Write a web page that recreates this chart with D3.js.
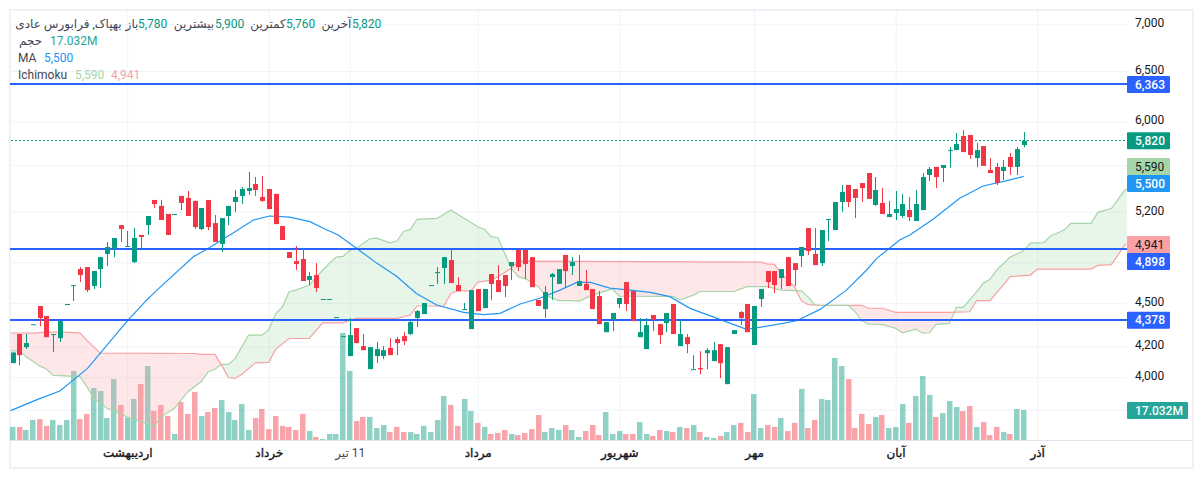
<!DOCTYPE html>
<html>
<head>
<meta charset="utf-8">
<script src="https://cdn.jsdelivr.net/npm/d3@7/dist/d3.min.js"></script>
<style>
  html, body { margin: 0; padding: 0; background: #fff; }
  svg { display: block; font-family: Roboto, "DejaVu Sans", sans-serif; }
  .grid line { stroke: #f0f3fa; }
  .grid path, .axis path, .axis line { display: none; }
  .axis text { font-size: 12px; fill: #131722; font-family: Roboto, "DejaVu Sans", sans-serif; }
  .rtl { direction: rtl; unicode-bidi: plaintext; }
</style>
</head>
<body>
<svg id="chart" width="1203" height="478"></svg>
<script>
  // bars are addressed by their index, 0 = first visible bar
  const opens = [
    4090,4283,4195,4350,4478,4407,4283,4255,4492,4629,
    4748,4763,4622,4748,4863,4910,5091,4925,4801,5012,
    5091,5298,5248,5181,5181,5332,5315,5290,5059,5298,
    5107,4941,5165,5281,5332,5374,5434,5323,5391,5349,
    5083,4878,4808,4824,4666,4703,4528,4528,4400,4269,
    4136,4324,4202,4051,4136,4136,4189,4249,4269,4283,
    4393,4421,4629,4718,4756,4816,4629,4456,4317,4600,
    4463,4711,4666,4703,4771,4894,4894,4839,4521,4456,
    4688,4637,4855,4771,4622,4637,4600,4549,4296,4379,
    4492,4651,4585,4262,4182,4414,4351,4358,4492,4202,
    4262,4051,4058,4155,4103,4215,3956,4283,4435,4492,
    4209,4528,4733,4733,4681,4839,4793,4847,5067,4863,
    4793,5140,5051,5281,5425,5391,5442,5529,5256,5273,
    5156,5189,5165,5214,5124,5214,5512,5583,5574,5734,
    5734,5864,5873,5662,5771,5556,5583,5547,5671,5583,5780
  ];
  const highs = [
    4160,4283,4283,4350,4478,4407,4283,4372,4492,4629,
    4763,4763,4733,4839,4956,4988,5091,5043,5067,5012,
    5165,5298,5298,5181,5181,5332,5374,5290,5231,5298,
    5173,5148,5248,5382,5408,5538,5494,5503,5391,5349,
    5083,4878,4925,4910,4726,4793,4528,4528,4400,4269,
    4393,4324,4283,4195,4229,4202,4255,4262,4296,4372,
    4449,4499,4629,4763,4839,4902,4688,4499,4592,4600,
    4600,4711,4778,4703,4801,4894,4894,4839,4521,4622,
    4718,4748,4855,4839,4855,4741,4600,4585,4365,4428,
    4535,4651,4585,4393,4393,4414,4351,4428,4492,4379,
    4283,4142,4168,4189,4229,4215,4195,4310,4442,4492,
    4478,4600,4733,4733,4748,4839,4793,4917,5067,5067,
    5051,5140,5281,5425,5425,5391,5442,5529,5494,5399,
    5290,5374,5349,5323,5382,5529,5583,5583,5600,5760,
    5892,5920,5873,5799,5771,5662,5618,5645,5707,5762,5900
  ];
  const lows = [
    4090,4077,4182,4350,4337,4262,4162,4229,4492,4514,
    4651,4578,4600,4607,4771,4839,4956,4925,4793,4902,
    5012,5231,5132,5012,5181,5214,5165,5059,5051,5051,
    4956,4878,5091,5198,5264,5340,5332,5281,5222,5099,
    4972,4832,4741,4659,4629,4578,4528,4528,4400,4269,
    4136,4222,4175,4051,4090,4116,4142,4142,4209,4276,
    4331,4421,4629,4637,4637,4644,4585,4456,4317,4442,
    4463,4521,4578,4542,4666,4733,4673,4614,4478,4393,
    4521,4637,4607,4703,4622,4592,4456,4351,4296,4303,
    4463,4442,4372,4262,4182,4303,4215,4296,4283,4202,
    4155,4051,4019,4051,4103,3994,3956,4283,4344,4296,
    4209,4471,4607,4571,4600,4622,4622,4763,4855,4778,
    4771,4964,5051,5198,5239,5148,5281,5307,5248,5181,
    5156,5132,5148,5124,5124,5214,5459,5399,5451,5574,
    5734,5716,5654,5583,5592,5529,5425,5468,5512,5512,5760
  ];
  const closes = [
    4160,4142,4222,4350,4393,4262,4283,4372,4492,4629,
    4703,4592,4733,4839,4917,4988,5059,4925,4988,4996,
    5165,5264,5132,5012,5181,5273,5165,5075,5231,5075,
    4956,5148,5248,5323,5391,5399,5382,5290,5222,5099,
    4972,4832,4786,4659,4696,4607,4528,4528,4400,4269,
    4276,4222,4175,4195,4182,4175,4142,4222,4235,4365,
    4442,4499,4629,4725,4839,4644,4585,4456,4592,4442,
    4600,4637,4578,4622,4801,4763,4786,4614,4478,4578,
    4711,4748,4733,4801,4659,4592,4456,4351,4365,4428,
    4535,4492,4372,4296,4344,4379,4276,4428,4283,4283,
    4215,4051,4050,4175,4175,4090,4195,4310,4393,4296,
    4478,4600,4651,4629,4748,4622,4741,4917,4886,4778,
    5051,5140,5281,5365,5281,5315,5399,5307,5382,5181,
    5181,5222,5264,5156,5264,5494,5565,5494,5600,5734,
    5790,5716,5690,5734,5592,5529,5442,5583,5583,5743,5820
  ];
  // volume in millions
  const volumes = [
    7.4,7.4,5.7,11.4,11.9,8.0,11.4,8.5,11.4,39.2,
    11.9,14.8,29.5,27.8,12.5,34.6,19.9,12.5,23.3,31.8,
    42.0,16.5,19.9,13.6,3.4,21.6,14.8,27.3,13.6,15.9,
    18.2,22.7,15.9,11.4,20.4,5.7,12.5,17.6,6.2,13.6,
    8.0,7.4,5.7,14.8,5.1,1.7,0.6,3.4,3.4,60.8,
    39.2,10.8,13.1,13.1,6.8,8.5,4.5,7.4,4.5,4.5,
    3.4,8.0,4.5,11.4,25.0,19.9,8.0,23.3,16.5,9.7,
    7.4,3.4,4.0,5.7,3.4,2.8,4.0,6.2,14.2,4.5,
    6.8,5.7,8.5,5.7,1.7,5.1,8.5,2.8,15.9,3.4,
    5.1,3.4,3.4,10.2,3.4,2.3,5.7,5.1,4.5,7.4,
    6.8,8.5,4.5,1.7,1.1,2.3,4.5,8.5,9.7,4.5,
    26.1,6.8,8.5,7.4,12.5,5.1,9.7,29.0,6.8,11.4,
    23.3,22.7,46.6,42.0,34.6,6.8,14.8,9.1,13.1,14.2,
    6.8,7.4,20.4,9.7,25.0,36.3,25.6,13.1,15.3,22.1,
    18.7,16.5,19.3,7.4,10.2,2.8,7.4,4.5,3.4,17.6,17.032
  ];

  const maIndex = [-0.3,3.8,7,11.1,17.1,19.9,21.4,26.8,28.8,32.7,35.7,38.1,41.1,44.1,46,48.3,51,54,57,59.9,62.9,66.9,69.8,72.3,75.3,78.2,81.2,83.7,85.7,88.6,91.6,94.6,97.5,100.5,104.9,108.9,112.8,116.3,119.8,123.7,126.7,128.2,131.6,133.1,136.6,140.5,144,147.5,150];
  const maValues = [3793,3863,3913,4056,4379,4521,4592,4842,4899,5027,5132,5165,5155,5119,5067,5012,4908,4793,4692,4568,4485,4433,4417,4426,4492,4533,4592,4649,4649,4607,4592,4576,4545,4461,4384,4315,4344,4374,4454,4592,4741,4829,4972,5012,5140,5312,5417,5463,5500];

  const spanAIndex = [-0.3,1,2,4,5,6,10,11,12,14,16,17,21,22,24,26,28,29,30,31,32,33,35,37,38,39,40,41,42,44,46,47,48,49,50,51,53,54,56,57,58,59,60,63,65,69,70,71,72,73,74,75,76,78,79,81,83,84,86,89,90,98,99,101,102,107,109,112,114,117,118,119,124,125,126,127,129,131,132,134,135,136,137,139,140,141,143,144,145,146,148,150,151,153,154,156,157,160,161,163,165,165.3];
  const spanAValues = [4170,4170,4131,4071,4052,4011,4003,3940,3868,3807,3777,3753,3702,3756,3807,3909,3972,4035,4050,4082,4082,4121,4276,4276,4315,4423,4470,4580,4592,4629,4741,4793,4839,4844,4889,4908,4982,4986,4949,4964,5040,5056,5138,5146,5214,5078,5056,4998,4990,4868,4754,4691,4679,4617,4556,4516,4516,4511,4556,4600,4549,4547,4521,4556,4582,4582,4617,4617,4592,4587,4543,4485,4483,4437,4374,4351,4349,4322,4292,4317,4289,4292,4349,4356,4468,4468,4580,4642,4672,4741,4839,4889,4947,4952,5004,5051,5105,5105,5195,5226,5382,5388];

  const spanBIndex = [-0.3,3,5,8,10,11,13,27,28,30,31,32,33,34,36,38,39,41,44,46,49,50,51,57,59,60,64,65,66,68,69,71,72,74,75,111,112,113,114,116,117,118,120,126,127,129,131,139,142,143,145,148,151,152,160,161,163,165,165.3];
  const spanBValues = [4290,4289,4296,4296,4289,4242,4155,4153,4147,4147,4077,3998,3992,4019,4092,4095,4180,4253,4253,4360,4360,4379,4391,4391,4414,4478,4478,4568,4587,4587,4651,4666,4691,4754,4808,4801,4786,4786,4716,4617,4516,4488,4483,4483,4462,4462,4433,4433,4437,4516,4516,4691,4703,4748,4748,4776,4781,4933,4941];

  const priceTicks = [7000,6500,6000,5600,5200,4800,4500,4200,4000,3800];
  const hiddenPriceTicks = [5600,4800,3800]; // covered by the value tags on the real chart
  const timeTickIndex = [17,38,50,69,90,110,131,152];
  const timeTickLabels = ['اردیبهشت','خرداد','11 تیر','مرداد','شهریور','مهر','آبان','آذر'];
  const levelLines = [6363,4898,4378];
  const lastPrice = 5820;

  const UP = '#089981', DOWN = '#f23645', LEVEL = '#2962ff', MA_COLOR = '#2196f3';
  const SPAN_A = '#a5d6a7', SPAN_B = '#faa1a4', VOLUME_TAG = '#26a69a';

  const plotLeft = 10, plotRight = 1127, plotTop = 11, plotBottom = 440, outerRight = 1192, outerBottom = 467;

  const svg = d3.select('#chart');

  const x = d3.scaleLinear().domain([0, 150]).range([12.7, 1023.7]);
  const y = d3.scaleLog().domain([7000, 3800]).range([24.3, 409.5]);
  const yVol = d3.scaleLinear().domain([0, 17.032]).range([plotBottom, 410]);

  svg.append('defs').append('clipPath').attr('id', 'plot')
    .append('rect').attr('x', plotLeft).attr('y', plotTop).attr('width', plotRight - plotLeft).attr('height', plotBottom - plotTop);

  // frame
  svg.append('rect').attr('x', 10).attr('y', 10).attr('width', outerRight - 9).attr('height', outerBottom - 9)
    .attr('fill', '#fff').attr('stroke', '#f0f1f6').attr('stroke-width', 2);

  // grid
  svg.append('g').attr('class', 'grid').attr('transform', `translate(${plotLeft + 1},0)`)
    .call(d3.axisRight(y).tickValues(priceTicks).tickSize(plotRight - plotLeft - 1).tickFormat(''));
  svg.append('g').attr('class', 'grid').attr('transform', `translate(0,${plotTop})`)
    .call(d3.axisBottom(x).tickValues(timeTickIndex).tickSize(plotBottom - plotTop).tickFormat(''));

  const plot = svg.append('g').attr('clip-path', 'url(#plot)');

  // volume
  const isUp = i => closes[i] >= opens[i];
  plot.append('g').selectAll('rect').data(volumes).join('rect')
    .attr('x', (d, i) => Math.round(x(i) - 2.75))
    .attr('width', 5.5)
    .attr('y', d => yVol(d))
    .attr('height', d => plotBottom - yVol(d))
    .attr('fill', (d, i) => isUp(i) ? UP : DOWN)
    .attr('fill-opacity', 0.45);

  // ichimoku cloud: each colour is the part of one span's underside above the other span
  const spanA = spanAIndex.map((d, i) => [d, spanAValues[i]]);
  const spanB = spanBIndex.map((d, i) => [d, spanBValues[i]]);
  const lineGen = d3.line().x(d => x(d[0])).y(d => y(d[1]));
  const areaBelow = d3.area().x(d => x(d[0])).y0(plotBottom + 20).y1(d => y(d[1]));
  const areaAbove = d3.area().x(d => x(d[0])).y0(plotTop - 20).y1(d => y(d[1]));

  const defs = svg.select('defs');
  defs.append('clipPath').attr('id', 'aboveA').append('path').attr('d', areaAbove(spanA));
  defs.append('clipPath').attr('id', 'aboveB').append('path').attr('d', areaAbove(spanB));

  plot.append('g').attr('clip-path', 'url(#aboveB)').append('path')
    .attr('d', areaBelow(spanA)).attr('fill', SPAN_A).attr('fill-opacity', 0.25);
  plot.append('g').attr('clip-path', 'url(#aboveA)').append('path')
    .attr('d', areaBelow(spanB)).attr('fill', SPAN_B).attr('fill-opacity', 0.25);
  plot.append('path').attr('d', lineGen(spanB)).attr('fill', 'none').attr('stroke', SPAN_B).attr('stroke-width', 1.2);
  plot.append('path').attr('d', lineGen(spanA)).attr('fill', 'none').attr('stroke', SPAN_A).attr('stroke-width', 1.2);

  // moving average, levels and last price all sit behind the candles
  plot.append('path')
    .attr('d', d3.line().x((d, i) => x(maIndex[i])).y(d => y(d))(maValues))
    .attr('fill', 'none').attr('stroke', MA_COLOR).attr('stroke-width', 1.2);

  plot.append('g').selectAll('line').data(levelLines).join('line')
    .attr('x1', plotLeft).attr('x2', plotRight)
    .attr('y1', d => Math.round(y(d))).attr('y2', d => Math.round(y(d)))
    .attr('stroke', LEVEL).attr('stroke-width', 2);
  const lastY = Math.floor(y(lastPrice)) + 0.5;
  plot.append('line').attr('x1', plotLeft + 1).attr('x2', plotRight).attr('y1', lastY).attr('y2', lastY)
    .attr('stroke', UP).attr('stroke-width', 1).attr('stroke-dasharray', '2 2');

  // candles
  const candleColor = i => isUp(i) ? UP : DOWN;
  const candles = plot.append('g');
  candles.selectAll('line').data(opens).join('line')
    .attr('x1', (d, i) => Math.round(x(i)) + 0.5).attr('x2', (d, i) => Math.round(x(i)) + 0.5)
    .attr('y1', (d, i) => y(highs[i])).attr('y2', (d, i) => y(lows[i]))
    .attr('stroke', (d, i) => candleColor(i)).attr('stroke-width', 1);
  candles.selectAll('rect').data(opens).join('rect')
    .attr('x', (d, i) => Math.round(x(i)) - 2)
    .attr('width', 5)
    .attr('y', (d, i) => y(Math.max(opens[i], closes[i])))
    .attr('height', (d, i) => Math.max(1, Math.abs(y(opens[i]) - y(closes[i]))))
    .attr('fill', (d, i) => candleColor(i));

  // axis lines
  svg.append('line').attr('x1', plotLeft).attr('x2', outerRight).attr('y1', plotBottom + 0.5).attr('y2', plotBottom + 0.5)
    .attr('stroke', '#e0e3eb');

  // price axis
  const fmt = d3.format(',');
  const priceAxis = svg.append('g').attr('class', 'axis').attr('transform', `translate(${plotRight},-1.5)`)
    .call(d3.axisRight(y).tickValues(priceTicks.filter(d => !hiddenPriceTicks.includes(d)))
      .tickFormat(fmt).tickSize(0).tickPadding(8));

  // time axis
  const timeAxis = svg.append('g').attr('class', 'axis').attr('transform', `translate(0,${plotBottom})`)
    .call(d3.axisBottom(x).tickValues(timeTickIndex)
      .tickFormat((d, i) => timeTickLabels[i]).tickSize(0).tickPadding(8));
  timeAxis.selectAll('text')
    .attr('class', 'rtl')
    .style('font-weight', 400)
    .style('stroke', d => d === 50 ? 'none' : '#131722')
    .style('stroke-width', 0.35)
    .style('fill', d => d === 50 ? '#434651' : '#131722');

  // value tags on the price axis
  const tagRows = [
    { y: 84.5, w: 43, bg: LEVEL, fg: '#fff', t: '6,363' },
    { y: 140.7, w: 43, bg: UP, fg: '#fff', t: '5,820' },
    { y: 166.5, w: 43, bg: SPAN_A, fg: '#131722', t: '5,590' },
    { y: 183.5, w: 43, bg: MA_COLOR, fg: '#fff', t: '5,500' },
    { y: 244.5, w: 43, bg: SPAN_B, fg: '#131722', t: '4,941' },
    { y: 261.5, w: 43, bg: LEVEL, fg: '#fff', t: '4,898' },
    { y: 320.2, w: 43, bg: LEVEL, fg: '#fff', t: '4,378' },
    { y: 410.5, w: 61, bg: VOLUME_TAG, fg: '#fff', t: '17.032M' }
  ];
  const tags = svg.append('g').selectAll('g').data(tagRows).join('g')
    .attr('transform', d => `translate(${plotRight},${d.y})`);
  tags.append('rect').attr('y', -8.5).attr('height', 17).attr('width', d => d.w).attr('rx', 1).attr('fill', d => d.bg);
  tags.append('text').attr('x', 8).attr('dy', '0.35em').attr('font-size', 12)
    .attr('font-weight', d => d.fg === '#fff' ? 500 : 400)
    .attr('fill', d => d.fg).text(d => d.t);

  // legend
  const TEXT = '#434651';
  const legendRows = [
    { x: 352, y: 24, t: '5,820', c: UP },
    { x: 322, y: 24, t: 'آخرین', c: TEXT, w: 29 },
    { x: 286, y: 24, t: '5,760', c: UP },
    { x: 251, y: 24, t: 'کمترین', c: TEXT, w: 34 },
    { x: 215, y: 24, t: '5,900', c: UP },
    { x: 174, y: 24, t: 'بیشترین', c: TEXT, w: 40 },
    { x: 138, y: 24, t: '5,780', c: UP },
    { x: 127, y: 24, t: 'باز', c: TEXT, w: 10 },
    { x: 18, y: 24, t: 'بهپاک, فرابورس عادی', c: TEXT, w: 101 },
    { x: 18, y: 41, t: 'حجم', c: TEXT, w: 25 },
    { x: 50, y: 41, t: '17.032M', c: VOLUME_TAG },
    { x: 18, y: 58, t: 'MA', c: TEXT },
    { x: 44, y: 58, t: '5,500', c: MA_COLOR },
    { x: 18, y: 75, t: 'Ichimoku', c: TEXT },
    { x: 75, y: 75, t: '5,590', c: SPAN_A },
    { x: 111, y: 75, t: '4,941', c: SPAN_B }
  ];
  svg.append('g').selectAll('text').data(legendRows).join('text')
    .attr('x', d => d.w ? d.x + d.w / 2 : d.x)
    .attr('y', d => d.y)
    .attr('dy', '0.35em')
    .attr('font-size', 12)
    .attr('text-anchor', d => d.w ? 'middle' : 'start')
    .attr('class', d => d.w ? 'rtl' : null)
    .attr('fill', d => d.c)
    .text(d => d.t);
</script>
</body>
</html>
